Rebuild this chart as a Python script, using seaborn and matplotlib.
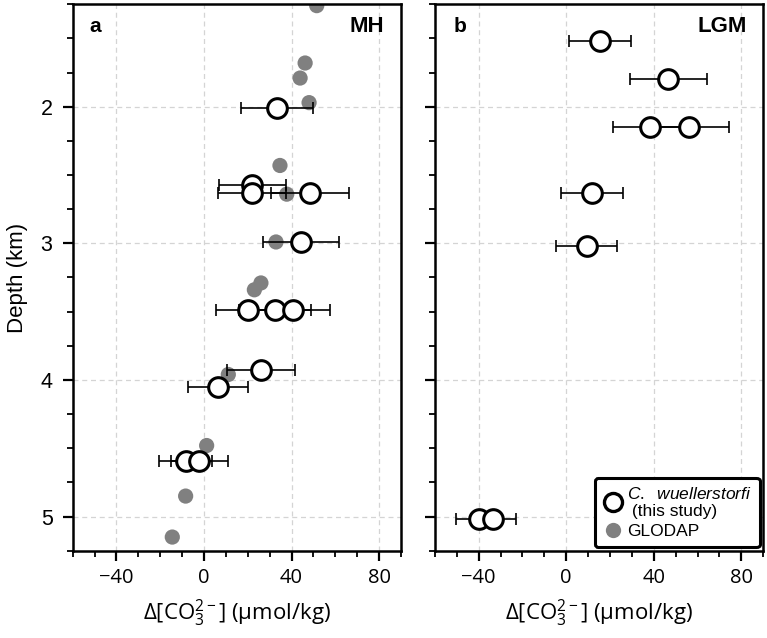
import numpy as np
import pandas as pd
import seaborn as sns
import matplotlib.pyplot as plt
from matplotlib.lines import Line2D
from matplotlib.ticker import MultipleLocator

# GLODAP modern profile (grey dots, panel a)
glodap_x = [51.5, 46.2, 43.9, 48.0, 34.7, 37.8, 32.9, 26.0, 23.0, 11.1, 1.2, -8.4, -14.5]
glodap_depth = [1.26, 1.68, 1.79, 1.97, 2.43, 2.64, 2.99, 3.29, 3.34, 3.96, 4.48, 4.85, 5.15]

# C. wuellerstorfi, Mid-Holocene (panel a)
mh_x = [33.2, 22.1, 22.1, 48.5, 44.3, 20.3, 32.5, 40.5, 26.1, 6.5, -8.4, -2.1]
mh_depth = [2.01, 2.57, 2.63, 2.63, 2.99, 3.49, 3.49, 3.49, 3.93, 4.05, 4.59, 4.59]
mh_err = [16.4, 15.4, 15.5, 17.8, 17.4, 14.8, 16.3, 17.1, 15.6, 13.7, 12.2, 13.1]

# C. wuellerstorfi, Last Glacial Maximum (panel b)
lgm_x = [15.4, 46.6, 38.5, 56.0, 11.6, 9.3, -39.9, -33.3]
lgm_depth = [1.52, 1.80, 2.15, 2.15, 2.63, 3.02, 5.02, 5.02]
lgm_err = [14.3, 17.6, 17.0, 18.6, 14.2, 14.0, 10.3, 10.2]

sns.set_style("ticks")
plt.rcParams['font.family'] = ['Liberation Sans', 'DejaVu Sans']
plt.rcParams['mathtext.fontset'] = 'custom'
plt.rcParams['mathtext.rm'] = 'Open Sans'
plt.rcParams['mathtext.it'] = 'Liberation Sans:italic'
for key in ['text.color', 'axes.labelcolor', 'xtick.color', 'ytick.color']:
    plt.rcParams[key] = 'black'

GREY = "#808080"
XLABEL = r"Δ[CO$_3^{2-}$] (μmol/kg)"


def style_axis(ax, show_ylabels):
    ax.set_xlim(-60, 90)
    ax.set_ylim(5.25, 1.25)
    ax.xaxis.set_minor_locator(MultipleLocator(10))
    ax.yaxis.set_minor_locator(MultipleLocator(0.25))
    ax.set_xticks([-40, 0, 40, 80])
    ax.set_xticklabels(["\u221240", "0", "40", "80"], family="Open Sans")
    ax.set_yticks([2, 3, 4, 5])
    ax.set_yticklabels(["2", "3", "4", "5"], fontsize=15.5)
    ax.tick_params(which="major", direction="out", length=7.5, width=1.6)
    ax.tick_params(axis="x", which="major", labelsize=14.5, pad=5)
    ax.tick_params(axis="y", which="major", pad=7)
    ax.tick_params(which="minor", direction="out", length=4.5, width=1.3)
    ax.tick_params(top=False, right=False, which="both")
    if not show_ylabels:
        ax.tick_params(axis="y", labelleft=False)
    for s in ax.spines.values():
        s.set_linewidth(1.8)
        s.set_color("black")
    ax.grid(True, which="major", linestyle=(0, (4, 3)), color="#d4d4d4", linewidth=0.9)
    ax.set_axisbelow(True)
    ax.set_xlabel(XLABEL, fontsize=16, family="Open Sans", labelpad=7)


def draw_cores(ax, xs, depths, errs):
    ax.errorbar(xs, depths, xerr=errs, fmt="none", ecolor="black",
                elinewidth=1.2, capsize=4.5, capthick=1.2, zorder=3)
    df = pd.DataFrame({"x": xs, "depth": depths})
    sns.scatterplot(data=df, x="x", y="depth", ax=ax, s=200, marker="o",
                    facecolor="white", edgecolor="black", linewidth=2.2, zorder=4)


fig = plt.figure(figsize=(7.67, 6.38), dpi=100)
ax_a = fig.add_axes([0.0948, 0.1368, 0.428, 0.8565])
ax_b = fig.add_axes([0.567, 0.1368, 0.428, 0.8565])

# panel a
gl = pd.DataFrame({"x": glodap_x, "depth": glodap_depth})
sns.scatterplot(data=gl, x="x", y="depth", ax=ax_a, s=120, color=GREY,
                edgecolor="none", zorder=2)
draw_cores(ax_a, mh_x, mh_depth, mh_err)
style_axis(ax_a, True)
ax_a.set_ylabel("Depth (km)", fontsize=16, labelpad=9)
ax_a.text(0.068, 0.96, "a", transform=ax_a.transAxes, fontsize=15,
          fontweight="bold", ha="center", va="center")
ax_a.text(0.95, 0.96, "MH", transform=ax_a.transAxes, fontsize=16,
          fontweight="bold", ha="right", va="center")

# panel b
draw_cores(ax_b, lgm_x, lgm_depth, lgm_err)
style_axis(ax_b, False)
ax_b.set_ylabel("")
ax_b.text(0.076, 0.96, "b", transform=ax_b.transAxes, fontsize=15,
          fontweight="bold", ha="center", va="center")
ax_b.text(0.95, 0.96, "LGM", transform=ax_b.transAxes, fontsize=16,
          fontweight="bold", ha="right", va="center")

handles = [
    Line2D([], [], marker="o", linestyle="none", markersize=13,
           markerfacecolor="white", markeredgecolor="black", markeredgewidth=2.4),
    Line2D([], [], marker="o", linestyle="none", markersize=11,
           markerfacecolor=GREY, markeredgecolor="none"),
]
labels = [r"$\mathit{C.\ \ wuellerstorfi}$" + "\n (this study)", "GLODAP"]
leg = ax_b.legend(handles, labels, loc="lower right", fontsize=12.5,
                  frameon=True, fancybox=True, framealpha=1,
                  handletextpad=0.2, handlelength=1.2, borderpad=0.45,
                  labelspacing=0.3, borderaxespad=0.2)
leg.get_frame().set_edgecolor("black")
leg.get_frame().set_linewidth(2.2)

fig.savefig("out.png", dpi=100)
